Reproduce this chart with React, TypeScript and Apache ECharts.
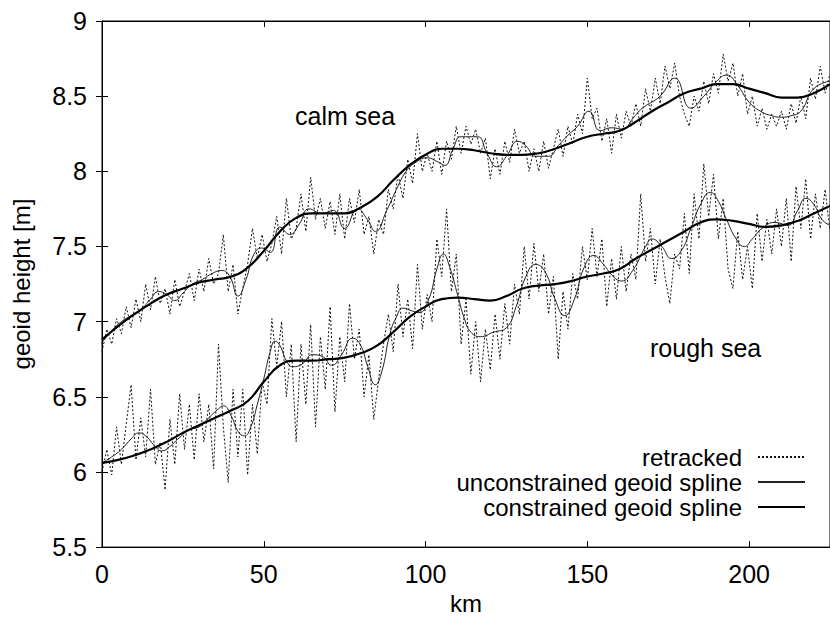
import React, { useEffect, useRef } from "react";
import * as echarts from "echarts";

// x ticks / y ticks
const xTicks = [0, 50, 100, 150, 200];
const yTicks = [5.5, 6, 6.5, 7, 7.5, 8, 8.5, 9];

// retracked sampling step (km) along track
const retrackedStepKm = 1.5;

const calmRetracked = [
  6.80, 6.95, 6.85, 7.02, 6.92, 7.10, 6.96, 7.15, 7.00, 7.25,
  7.08, 7.30, 7.12, 7.22, 7.05, 7.28, 7.10, 7.20, 7.32, 7.14,
  7.35, 7.20, 7.42, 7.25, 7.32, 7.58, 7.20, 7.38, 7.05, 7.22,
  7.38, 7.62, 7.42, 7.58, 7.40, 7.52, 7.70, 7.45, 7.82, 7.55,
  7.62, 7.85, 7.60, 7.96, 7.68, 7.82, 7.62, 7.80, 7.58, 7.85,
  7.55, 7.82, 7.66, 7.88, 7.58, 7.70, 7.45, 7.68, 7.58, 7.88,
  7.75, 7.98, 7.82, 8.08, 7.92, 8.25, 8.00, 8.12, 8.00, 8.20,
  7.98, 8.20, 8.08, 8.30, 8.12, 8.30, 8.18, 8.28, 8.12, 8.22,
  7.95, 8.15, 7.98, 8.20, 8.06, 8.28, 8.12, 8.20, 8.00, 8.15,
  8.00, 8.20, 8.02, 8.15, 8.28, 8.10, 8.30, 8.18, 8.38, 8.25,
  8.62, 8.35, 8.42, 8.20, 8.35, 8.12, 8.38, 8.22, 8.40, 8.30,
  8.45, 8.30, 8.55, 8.40, 8.62, 8.45, 8.70, 8.55, 8.72, 8.50,
  8.38, 8.30, 8.50, 8.40, 8.60, 8.45, 8.65, 8.52, 8.78, 8.60,
  8.72, 8.50, 8.65, 8.38, 8.50, 8.30, 8.42, 8.28, 8.38, 8.30,
  8.40, 8.28, 8.45, 8.32, 8.50, 8.35, 8.62, 8.48, 8.70, 8.52,
  8.65,
];

const roughRetracked = [
  6.00, 6.15, 5.98, 6.30, 6.05, 6.32, 6.58, 6.08, 6.36, 6.10,
  6.55, 6.05, 6.20, 5.88, 6.35, 6.05, 6.52, 6.15, 6.45, 6.08,
  6.52, 6.20, 6.45, 6.02, 6.85, 6.30, 5.93, 6.55, 6.10, 6.55,
  5.98, 6.45, 6.12, 6.60, 6.45, 7.02, 6.70, 7.00, 6.50, 6.85,
  6.20, 6.85, 6.45, 6.98, 6.30, 6.90, 6.55, 7.10, 6.40, 6.90,
  6.60, 7.12, 6.75, 6.95, 6.50, 6.78, 6.35, 6.62, 6.85, 7.05,
  6.80, 7.25, 6.90, 7.15, 6.82, 7.38, 6.95, 7.18, 7.00, 7.55,
  7.30, 7.75, 7.20, 7.45, 6.85, 7.15, 6.65, 7.00, 6.60, 6.95,
  6.68, 7.05, 6.75, 7.12, 6.85, 7.25, 7.05, 7.50, 7.15, 7.52,
  7.20, 7.45, 7.05, 7.30, 6.75, 7.20, 6.95, 7.32, 7.15, 7.50,
  7.28, 7.62, 7.30, 7.55, 7.10, 7.42, 7.15, 7.50, 7.20, 7.45,
  7.28, 7.85, 7.40, 7.62, 7.25, 7.55, 7.30, 7.12, 7.45, 7.35,
  7.72, 7.32, 7.85, 7.55, 8.05, 7.70, 7.98, 7.55, 7.82, 7.35,
  7.22, 7.60, 7.28, 7.50, 7.22, 7.72, 7.40, 7.68, 7.45, 7.75,
  7.50, 7.82, 7.40, 7.90, 7.62, 7.95, 7.55, 7.85, 7.62, 7.88,
  7.60,
];

// [km, height]
const calmUnconstrained: [number, number][] = [
  [0, 6.86], [3, 6.94], [6, 7.0], [9, 7.04], [12, 7.08], [15, 7.15], [17.5, 7.2],
  [20, 7.18], [22.5, 7.14], [25, 7.19], [28, 7.25], [31, 7.28], [34, 7.32], [37, 7.34],
  [39.5, 7.3], [42, 7.17], [44.5, 7.28], [47, 7.45], [49.5, 7.49], [52, 7.46], [55, 7.63],
  [58, 7.58], [61, 7.65], [64, 7.75], [68, 7.72], [71.5, 7.74], [75, 7.62], [79, 7.75],
  [82, 7.68], [84.5, 7.6], [88, 7.74], [91, 7.88], [94, 8.0], [97, 8.06], [100.5, 8.09],
  [104, 8.06], [106, 8.04], [108.5, 8.15], [111, 8.23], [116, 8.23], [119, 8.12],
  [122, 8.03], [125, 8.1], [128.5, 8.2], [131, 8.17], [134, 8.1], [138, 8.1], [141, 8.17],
  [144, 8.24], [147, 8.3], [150.5, 8.4], [154, 8.27], [157.5, 8.29], [161, 8.28],
  [164, 8.35], [167, 8.42], [172.5, 8.5], [177, 8.62], [182, 8.42], [186, 8.5], [190, 8.6],
  [193, 8.64], [196.5, 8.57], [200, 8.46], [203.5, 8.4], [207, 8.37], [210, 8.36],
  [213, 8.37], [216, 8.4], [220, 8.55], [225, 8.6],
];

const calmConstrained: [number, number][] = [
  [0, 6.88], [5, 6.97], [10, 7.05], [15, 7.12], [20, 7.18], [25, 7.22], [30, 7.26],
  [35, 7.28], [40, 7.3], [45, 7.36], [50, 7.47], [55, 7.6], [60, 7.69], [65, 7.72],
  [70, 7.72], [75, 7.72], [80, 7.76], [85, 7.83], [90, 7.94], [95, 8.04], [100, 8.11],
  [105, 8.15], [110, 8.15], [115, 8.14], [120, 8.12], [125, 8.11], [130, 8.11],
  [135, 8.12], [140, 8.15], [145, 8.19], [150, 8.23], [155, 8.25], [160, 8.27],
  [165, 8.33], [170, 8.4], [175, 8.46], [180, 8.52], [185, 8.55], [190, 8.58],
  [195, 8.58], [200, 8.55], [205, 8.52], [210, 8.49], [215, 8.49], [220, 8.52], [225, 8.58],
];

const roughUnconstrained: [number, number][] = [
  [0, 6.06], [3, 6.1], [6, 6.15], [9, 6.22], [11.5, 6.26], [14, 6.23], [16, 6.18],
  [18.5, 6.14], [21, 6.17], [23.5, 6.22], [27, 6.28], [30, 6.3], [33, 6.36], [36, 6.42],
  [37.5, 6.44], [40, 6.37], [42, 6.27], [44, 6.24], [46, 6.3], [48, 6.45], [50, 6.62],
  [52, 6.8], [53.5, 6.87], [55, 6.84], [57, 6.74], [59, 6.7], [62, 6.72], [65, 6.78],
  [68, 6.77], [71, 6.71], [74, 6.78], [77.5, 6.89], [80, 6.84], [82, 6.71], [84.5, 6.58],
  [86.5, 6.67], [89, 6.92], [91, 7.03], [93, 7.09], [96, 7.07], [98, 7.06], [101, 7.15],
  [103.5, 7.35], [105.5, 7.45], [107.5, 7.36], [110, 7.17], [112, 7.02], [114, 6.93],
  [117, 6.9], [121, 6.93], [125, 6.96], [128, 7.1], [131, 7.3], [134, 7.38], [137, 7.33],
  [140, 7.15], [143, 7.04], [146, 7.15], [149, 7.36], [152, 7.44], [155, 7.38], [158, 7.3],
  [160.5, 7.27], [164, 7.34], [168, 7.5], [170, 7.55], [173, 7.5], [176, 7.42], [179, 7.47],
  [182, 7.62], [185, 7.78], [188, 7.86], [190.5, 7.8], [193, 7.68], [196, 7.55],
  [198.5, 7.5], [201, 7.55], [204, 7.62], [208, 7.66], [212, 7.64], [215, 7.74],
  [217.5, 7.82], [220, 7.78], [222.5, 7.68], [225, 7.64],
];

const roughConstrained: [number, number][] = [
  [0, 6.06], [5, 6.08], [10, 6.11], [15, 6.15], [20, 6.2], [25, 6.26], [30, 6.31],
  [35, 6.36], [40, 6.41], [45, 6.47], [50, 6.6], [55, 6.71], [60, 6.74], [65, 6.74],
  [70, 6.75], [75, 6.76], [80, 6.79], [85, 6.84], [90, 6.93], [95, 7.03], [100, 7.1],
  [105, 7.15], [110, 7.16], [115, 7.15], [120, 7.14], [125, 7.17], [130, 7.22],
  [135, 7.24], [140, 7.25], [145, 7.27], [150, 7.3], [155, 7.32], [160, 7.35],
  [165, 7.42], [170, 7.48], [175, 7.54], [180, 7.6], [185, 7.66], [190, 7.68],
  [195, 7.67], [200, 7.65], [205, 7.63], [210, 7.64], [215, 7.67], [220, 7.72], [225, 7.77],
];

const legendNames = ["retracked", "unconstrained geoid spline", "constrained geoid spline"];
const annotations = ["calm sea", "rough sea"];

const FONT = "Liberation Sans, Arial, Helvetica, sans-serif";

export default function App() {
  const ref = useRef<HTMLDivElement>(null);
  useEffect(() => {
    if (!ref.current) return;
    const chart = echarts.init(ref.current, undefined, { renderer: "svg" });
    const toPairs = (vals: number[]) => vals.map((v, i) => [i * retrackedStepKm, v]);
    const retrackedStyle = { color: "#111", width: 1, type: [2, 2] as number[] };
    const thin = { color: "#222", width: 1, type: "solid" as const };
    const thick = { color: "#000", width: 2.2, type: "solid" as const };
    const mk = (name: string, data: any, lineStyle: any, smooth: any, z: number) => ({
      type: "line",
      name,
      data,
      symbol: "none",
      smooth,
      lineStyle,
      itemStyle: { color: lineStyle.color },
      z,
      silent: true,
    });
    const legendTops = [445, 470, 495];
    chart.setOption({
      animation: false,
      backgroundColor: "#fff",
      textStyle: { fontFamily: FONT },
      grid: { left: 102, right: 0, top: 21, bottom: 61, show: true, borderColor: "#000", borderWidth: 1 },
      xAxis: [
        {
          type: "value",
          min: 0,
          max: 225,
          interval: 50,
          name: "km",
          nameLocation: "middle",
          nameGap: 42,
          nameTextStyle: { fontSize: 24, color: "#000", fontFamily: FONT },
          axisLine: { show: true, lineStyle: { color: "#000" } },
          axisTick: { show: true, inside: true, length: 6, lineStyle: { color: "#000" } },
          axisLabel: { fontSize: 25, color: "#000", margin: 14, showMaxLabel: false, fontFamily: FONT,
            formatter: (v: number) => (xTicks.includes(v) ? String(v) : "") },
          splitLine: { show: false },
        },
        {
          type: "value",
          position: "top",
          min: 0,
          max: 225,
          interval: 50,
          axisLine: { show: true, lineStyle: { color: "#000" } },
          axisTick: { show: true, inside: true, length: 6, lineStyle: { color: "#000" } },
          axisLabel: { show: false },
          splitLine: { show: false },
        },
      ],
      yAxis: [
        {
          type: "value",
          min: 5.5,
          max: 9,
          interval: 0.5,
          name: "geoid height [m]",
          nameLocation: "middle",
          nameGap: 69,
          nameRotate: 90,
          nameTextStyle: { fontSize: 24, color: "#000", fontFamily: FONT },
          axisLine: { show: true, lineStyle: { color: "#000" } },
          axisTick: { show: true, inside: true, length: 6, lineStyle: { color: "#000" } },
          axisLabel: { fontSize: 25, color: "#000", margin: 15, fontFamily: FONT,
            formatter: (v: number) => (yTicks.includes(v) ? String(v) : "") },
          splitLine: { show: false },
        },
        {
          type: "value",
          position: "right",
          min: 5.5,
          max: 9,
          interval: 0.5,
          axisLine: { show: true, lineStyle: { color: "#000" } },
          axisTick: { show: true, inside: true, length: 6, lineStyle: { color: "#000" } },
          axisLabel: { show: false },
          splitLine: { show: false },
        },
      ],
      legend: legendNames.map((n, i) => ({
        data: [n],
        right: 24,
        top: legendTops[i],
        align: "right",
        orient: "vertical",
        itemWidth: 47,
        itemHeight: 14,
        itemGap: 0,
        padding: 0,
        selectedMode: false,
        itemStyle: { opacity: 0 },
        textStyle: { fontSize: 24, lineHeight: 24, color: "#000", fontFamily: FONT, padding: [0, 11, 0, 0] },
      })),
      graphic: [
        { type: "text", left: 295, top: 103, style: { text: annotations[0], fontSize: 25, fill: "#000", fontFamily: FONT } },
        { type: "text", left: 650, top: 335, style: { text: annotations[1], fontSize: 25, fill: "#000", fontFamily: FONT } },
      ],
      series: [
        mk(legendNames[0], toPairs(calmRetracked), retrackedStyle, false, 1),
        mk(legendNames[0], toPairs(roughRetracked), retrackedStyle, false, 1),
        mk(legendNames[1], calmUnconstrained, thin, 0.5, 2),
        mk(legendNames[1], roughUnconstrained, thin, 0.5, 2),
        mk(legendNames[2], calmConstrained, thick, 0.5, 3),
        mk(legendNames[2], roughConstrained, thick, 0.5, 3),
      ],
    });
    return () => chart.dispose();
  }, []);
  return (
    <div
      ref={ref}
      style={{ position: "fixed", left: 0, top: 0, width: 830, height: 620, background: "#fff" }}
    />
  );
}
